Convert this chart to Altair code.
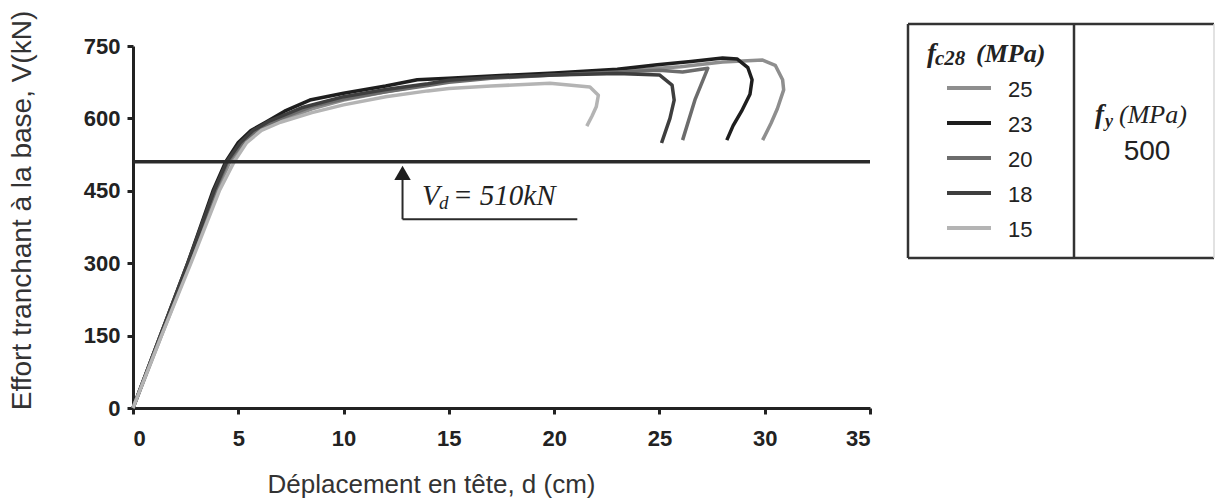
import altair as alt
import pandas as pd

# Pushover curves: top displacement d (cm) vs base shear V (kN), one per concrete strength fc28
fc28_labels = ["25", "23", "20", "18", "15"]
fc28_colors = ["#8e8e8e", "#1e1e1e", "#6c6c6c", "#3e3e3e", "#b4b4b4"]

d_25 = [0, 1.35, 2.7, 4.0, 4.6, 5.3, 6.0, 7.0, 8.5, 10, 12, 14, 15, 17, 20, 23, 26, 28, 29.9, 30.5, 30.85, 30.9, 30.6, 30.3, 29.9]
v_25 = [0, 150, 300, 450, 510, 550, 575, 595, 620, 638, 655, 670, 678, 685, 692, 698, 707, 717, 721, 710, 680, 659, 620, 590, 555]

d_23 = [0, 1.3, 2.6, 3.8, 4.4, 5.0, 5.6, 6.3, 7.2, 8.4, 10, 12, 13.5, 15, 17, 20, 23, 24.9, 26.5, 28.0, 28.7, 29.2, 29.4, 29.3, 28.9, 28.5, 28.2]
v_23 = [0, 150, 300, 450, 510, 550, 575, 592, 615, 638, 652, 667, 680, 683, 688, 694, 702, 711, 718, 725, 723, 705, 680, 650, 615, 585, 555]

d_20 = [0, 1.3, 2.65, 3.9, 4.5, 5.2, 5.9, 7.0, 8.5, 10, 12, 14, 15, 17, 20, 23, 25, 26.1, 27.3, 26.7, 26.1]
v_20 = [0, 150, 300, 450, 510, 550, 575, 600, 625, 640, 655, 668, 675, 683, 690, 696, 700, 696, 704, 640, 555]

d_18 = [0, 1.3, 2.6, 3.85, 4.45, 5.1, 5.7, 6.5, 8.0, 10, 12, 14, 15, 17, 20, 23, 25.0, 25.6, 25.7, 25.5, 25.1]
v_18 = [0, 150, 300, 450, 510, 550, 575, 595, 622, 645, 660, 672, 679, 685, 690, 693, 690, 669, 638, 600, 549]

d_15 = [0, 1.35, 2.75, 4.1, 4.8, 5.4, 6.1, 7.0, 8.5, 10, 12, 14, 15, 17, 19.8, 21.7, 22.1, 22.0, 21.8, 21.55]
v_15 = [0, 150, 300, 450, 510, 550, 575, 592, 612, 628, 645, 657, 662, 667, 673, 665, 648, 624, 605, 584]

series = {"25": (d_25, v_25), "23": (d_23, v_23), "20": (d_20, v_20),
          "18": (d_18, v_18), "15": (d_15, v_15)}

x_ticks = [0, 5, 10, 15, 20, 25, 30, 35]
y_ticks = [0, 150, 300, 450, 600, 750]

# Design shear and its annotation arrow
vd = 510
arrow_d = 12.8
arrow_base_v = 391
arrow_tip_v = 487
arrow_end_d = 21.1
fy = 500

rows = []
for lab in fc28_labels:
    ds, vs = series[lab]
    for i, (d, v) in enumerate(zip(ds, vs)):
        rows.append({"fc28": lab, "d": d, "V": v, "k": i})
curves_df = pd.DataFrame(rows)

W, H = 737, 362
xs = alt.Scale(domain=[0, 35], nice=False, zero=True)
ys = alt.Scale(domain=[0, 750], nice=False)

curves = alt.Chart(curves_df).mark_line(strokeWidth=3.5, strokeJoin="round").encode(
    x=alt.X("d:Q", scale=xs,
            axis=alt.Axis(values=x_ticks, title="Déplacement en tête, d (cm)",
                          titleX=298, titleY=84, titleBaseline="alphabetic",
                          titleFontSize=26, labelPadding=14)),
    y=alt.Y("V:Q", scale=ys,
            axis=alt.Axis(values=y_ticks, title="Effort tranchant à la base, V(kN)",
                          titleX=-111, titleY=164, titleAngle=270,
                          titleAlign="center", titleBaseline="middle",
                          titleFontSize=28, labelPadding=7)),
    color=alt.Color("fc28:N", scale=alt.Scale(domain=fc28_labels, range=fc28_colors), legend=None),
    detail="fc28:N",
    order=alt.Order("k:Q"),
)

vd_df = pd.DataFrame({"d0": [0], "d1": [35], "V": [vd]})
vd_line = alt.Chart(vd_df).mark_rule(color="#2a2a2a", strokeWidth=3.5).encode(
    x="d0:Q", x2="d1:Q", y="V:Q")

arrow_df = pd.DataFrame({"d": [arrow_d], "v0": [arrow_base_v], "v1": [arrow_tip_v],
                         "d1": [arrow_end_d]})
arrow_stem = alt.Chart(arrow_df).mark_rule(color="#2a2a2a", strokeWidth=2).encode(
    x="d:Q", y="v0:Q", y2="v1:Q")
arrow_foot = alt.Chart(arrow_df).mark_rule(color="#2a2a2a", strokeWidth=2).encode(
    x="d:Q", x2="d1:Q", y="v0:Q")
arrow_head = alt.Chart(arrow_df).mark_point(shape="triangle-up", filled=True, size=270,
                                            color="#1e1e1e", opacity=1).encode(
    x="d:Q", y="v1:Q")

serif = "Liberation Serif"
sans = "Liberation Sans"


def txt(text, x, y, size, font=sans, style="normal", weight="normal", align="left",
        baseline="alphabetic", color="#222222"):
    return alt.Chart(pd.DataFrame({"t": [text]})).mark_text(
        font=font, fontSize=size, fontStyle=style, fontWeight=weight, align=align,
        baseline=baseline, color=color).encode(
        text="t:N", x=alt.value(x), y=alt.value(y))


def hrule(x0, x1, y, color="#333333", width=2.5):
    return alt.Chart(pd.DataFrame({"a": [0]})).mark_rule(color=color, strokeWidth=width).encode(
        x=alt.value(x0), x2=alt.value(x1), y=alt.value(y))


def vrule(x, y0, y1, color="#333333", width=2.5):
    return alt.Chart(pd.DataFrame({"a": [0]})).mark_rule(color=color, strokeWidth=width).encode(
        x=alt.value(x), y=alt.value(y0), y2=alt.value(y1))


# V_d annotation text
vd_text = [
    txt("V", 289, 159, 29, font=serif, style="italic"),
    txt("d", 306, 163, 19, font=serif, style="italic"),
    txt(f"= {vd}kN", 320, 159, 29, font=serif, style="italic"),
]

# Boxed key on the right
box_l, box_r, box_t, box_b, box_mid = 775, 1081, -22, 212, 941
key = [
    hrule(box_l, box_r, box_t),
    hrule(box_l, box_r, box_b),
    vrule(box_l, box_t, box_b),
    vrule(box_mid, box_t, box_b),
    vrule(box_r, box_t, box_b, color="#d8d8d8", width=1.5),
    txt("f", 794, 16, 27, font=serif, style="italic", weight="bold"),
    txt("c28", 802, 19, 21, font=serif, style="italic", weight="bold"),
    txt("(MPa)", 843, 16, 26, font=serif, style="italic", weight="bold"),
    txt("f", 962, 77, 27, font=serif, style="italic", weight="bold"),
    txt("y", 972, 81, 18, font=serif, style="italic", weight="bold"),
    txt("(MPa)", 986, 77, 26, font=serif, style="italic"),
    txt(str(fy), 1014, 114, 28, align="center"),
]
for i, (lab, col) in enumerate(zip(fc28_labels, fc28_colors)):
    yy = 42 + 35 * i
    key.append(hrule(814, 858, yy, color=col, width=4))
    key.append(txt(lab, 875, yy + 2, 22, baseline="middle"))

chart = alt.layer(curves, vd_line, arrow_stem, arrow_foot, arrow_head, *vd_text, *key).properties(
    width=W, height=H,
    autosize=alt.AutoSizeParams(type="none"),
    padding={"left": 133, "top": 46, "right": 346, "bottom": 93},
    background="white",
).configure_view(stroke=None).configure_axis(
    grid=False, domainColor="#222222", domainWidth=3, tickColor="#222222", tickWidth=3,
    tickSize=6, labelFont=sans, labelFontSize=22, labelFontWeight="bold",
    labelColor="#222222", titleFont=sans, titleFontWeight="normal", titleColor="#333333",
)

chart.save("out.html", embed_options={"renderer": "svg", "actions": False})
